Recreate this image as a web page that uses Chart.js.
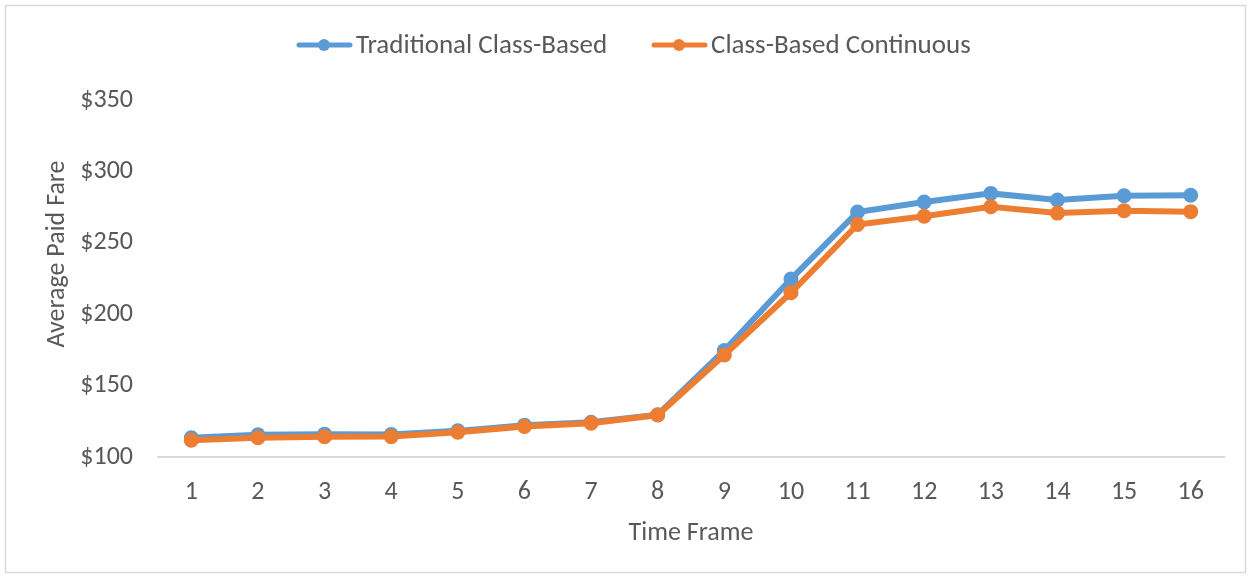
<!DOCTYPE html>
<html>
<head>
<meta charset="utf-8">
<script src="https://cdn.jsdelivr.net/npm/chart.js@4/dist/chart.umd.min.js"></script>
<style>
  html, body { margin: 0; padding: 0; background: #fff; }
  #wrap { width: 1252px; height: 578px; position: relative; }
</style>
</head>
<body>
<div id="wrap"><canvas id="graph" width="1252" height="578"></canvas></div>
<script>
const frames = ['1','2','3','4','5','6','7','8','9','10','11','12','13','14','15','16'];
const traditional = [113.5, 115.5, 116, 115.8, 118.3, 122.3, 124.3, 129.6, 174.6, 224.6, 271.6, 278.6, 284.6, 280, 282.9, 283.3];
const continuous = [111.8, 113.5, 114.2, 114.3, 117.3, 121.4, 123.7, 129.4, 171.4, 215, 262.8, 268.6, 275.2, 270.8, 272.5, 271.8];
const yTicks = [100, 150, 200, 250, 300, 350];

const FONT = "Carlito, Calibri, 'Liberation Sans Narrow', 'Open Sans', sans-serif";
const SIZE = 26;
const GREY = '#595959';
const BLUE = '#5B9BD5';
const ORANGE = '#ED7D31';

// frame, legend and y title drawn by hand
const extras = {
  id: 'extras',
  beforeDraw(chart) {
    const c = chart.ctx;
    c.save();
    c.strokeStyle = '#d9d9d9';
    c.lineWidth = 1.5;
    c.strokeRect(5.5, 5.5, 1240, 567);
    c.restore();
  },
  afterDraw(chart) {
    const c = chart.ctx;
    c.save();
    c.fillStyle = GREY;
    c.textBaseline = 'middle';
    const items = [
      { text: 'Traditional Class-Based', color: BLUE, x: 297 },
      { text: 'Class-Based Continuous', color: ORANGE, x: 652 }
    ];
    items.forEach(it => {
      c.strokeStyle = it.color;
      c.lineWidth = 5;
      c.lineCap = 'round';
      c.beginPath();
      c.moveTo(it.x + 2, 45);
      c.lineTo(it.x + 53, 45);
      c.stroke();
      c.fillStyle = it.color;
      c.beginPath();
      c.arc(it.x + 27, 45, 6, 0, Math.PI * 2);
      c.fill();
      c.fillStyle = GREY;
      c.textAlign = 'left';
      c.font = '27px ' + FONT;
      c.fillText(it.text, it.x + 59, 46);
    });
    c.font = SIZE + 'px ' + FONT;
    c.translate(57, 254);
    c.rotate(-Math.PI / 2);
    c.textAlign = 'center';
    c.fillText('Average Paid Fare', 0, 0);
    c.restore();
  }
};

new Chart(document.getElementById('graph'), {
  type: 'line',
  data: {
    labels: frames,
    datasets: [
      {
        label: 'Traditional Class-Based',
        data: traditional,
        borderColor: BLUE,
        backgroundColor: BLUE,
        borderWidth: 6,
        pointRadius: 7.5,
        pointBorderWidth: 0,
        tension: 0,
        order: 1
      },
      {
        label: 'Class-Based Continuous',
        data: continuous,
        borderColor: ORANGE,
        backgroundColor: ORANGE,
        borderWidth: 6,
        pointRadius: 7.5,
        pointBorderWidth: 0,
        tension: 0,
        order: 0
      }
    ]
  },
  options: {
    responsive: false,
    animation: false,
    layout: { padding: { top: 100, right: 28, left: 0, bottom: 0 } },
    plugins: {
      legend: { display: false },
      tooltip: { enabled: false }
    },
    scales: {
      x: {
        offset: true,
        grid: { display: false, drawTicks: false },
        border: { display: true, color: '#d9d9d9', width: 2 },
        ticks: { color: GREY, font: { size: SIZE, family: FONT }, padding: 20 },
        title: {
          display: true,
          text: 'Time Frame',
          color: GREY,
          font: { size: SIZE, family: FONT },
          padding: { top: 0, bottom: 29 }
        },
        afterFit(s) { s.height = 121; }
      },
      y: {
        min: 100,
        max: 350,
        afterBuildTicks(s) { s.ticks = yTicks.map(v => ({ value: v })); },
        grid: { display: false, drawTicks: false },
        border: { display: false },
        ticks: {
          color: GREY,
          font: { size: SIZE, family: FONT },
          padding: 25,
          callback: v => '$' + v
        },
        afterFit(s) { s.width = 158; }
      }
    }
  },
  plugins: [extras]
});
</script>
</body>
</html>
